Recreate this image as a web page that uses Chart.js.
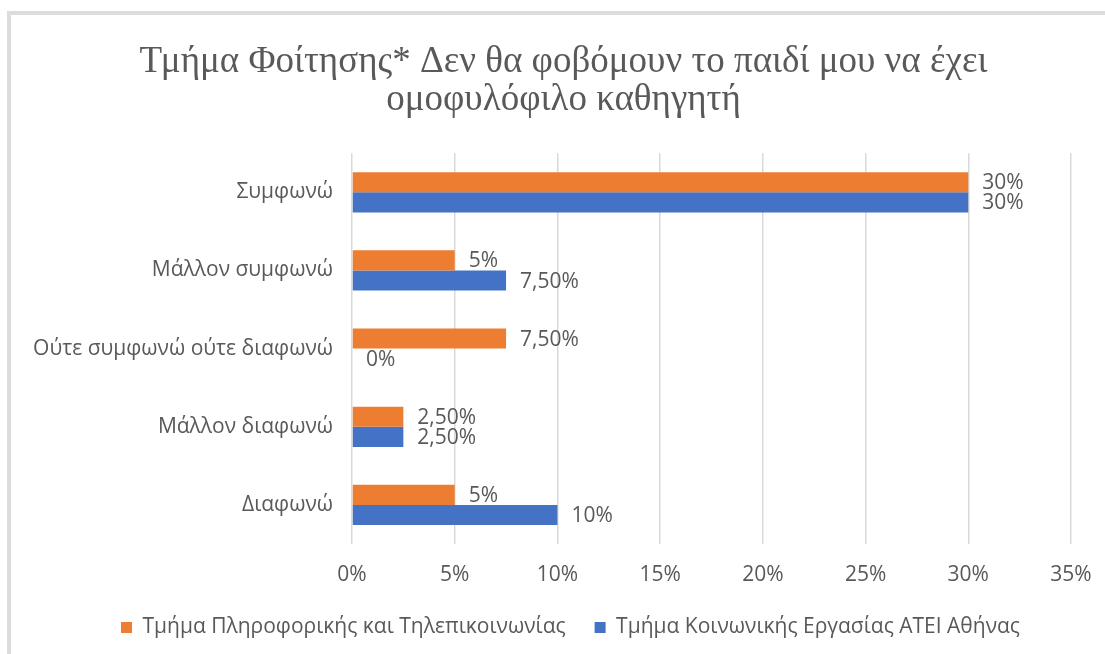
<!DOCTYPE html>
<html>
<head>
<meta charset="utf-8">
<script src="https://cdn.jsdelivr.net/npm/chart.js@4.4.1/dist/chart.umd.min.js"></script>
<style>
  body { margin: 0; background: #fff; }
</style>
</head>
<body>
<canvas id="myChart" width="1105" height="654"></canvas>
<script>
    // κατηγορίες απαντήσεων
    let labels = [
        "Συμφωνώ",
        "Μάλλον συμφωνώ",
        "Ούτε συμφωνώ ούτε διαφωνώ",
        "Μάλλον διαφωνώ",
        "Διαφωνώ"
    ];
    // Τμήμα Πληροφορικής και Τηλεπικοινωνίας (%)
    let informatics = [30, 5, 7.5, 2.5, 5];
    // Τμήμα Κοινωνικής Εργασίας ΑΤΕΙ Αθήνας (%)
    let socialWork = [30, 7.5, 0, 2.5, 10];
    // άξονας x
    let xTicks = [0, 5, 10, 15, 20, 25, 30, 35];

    const textColor = "#595959";

    function fmt(v) {
        return Number.isInteger(v) ? v + "%" : v.toFixed(2).replace(".", ",") + "%";
    }

    // πλαίσιο γύρω από το γράφημα + μετατόπιση τίτλου/υπομνήματος όπως στο Excel
    const framePlugin = {
        id: "frame",
        afterLayout(chart) {
            chart.titleBlock.left = 22;
            chart.legend.left += 18;
            chart.legend.right += 18;
        },
        beforeDraw(chart) {
            const c = chart.ctx;
            c.save();
            c.fillStyle = "#fff";
            c.fillRect(0, 0, chart.width, chart.height);
            c.strokeStyle = "#dcdcdc";
            c.lineWidth = 4;
            c.beginPath();
            c.moveTo(9, chart.height);
            c.lineTo(9, 13);
            c.lineTo(chart.width, 13);
            c.stroke();
            c.restore();
        }
    };

    // ετικέτες τιμών δίπλα στις μπάρες
    const valueLabels = {
        id: "valueLabels",
        afterDatasetsDraw(chart) {
            const c = chart.ctx;
            c.save();
            c.font = "21px 'Open Sans'";
            c.fillStyle = textColor;
            c.textAlign = "left";
            c.textBaseline = "middle";
            chart.data.datasets.forEach((ds, i) => {
                chart.getDatasetMeta(i).data.forEach((bar, j) => {
                    c.fillText(fmt(ds.data[j]), bar.x + 14, bar.y + 1);
                });
            });
            c.restore();
        }
    };

    let ctx = document.getElementById("myChart");
    let myChart = new Chart(ctx, {
        type: "bar",
        data: {
            labels: labels,
            datasets: [
                {
                    label: "Τμήμα Πληροφορικής και Τηλεπικοινωνίας",
                    data: informatics,
                    backgroundColor: "#ED7D31"
                },
                {
                    label: "Τμήμα Κοινωνικής Εργασίας ΑΤΕΙ Αθήνας",
                    data: socialWork,
                    backgroundColor: "#4472C4"
                }
            ]
        },
        options: {
            indexAxis: "y",
            responsive: false,
            animation: false,
            layout: { padding: { top: 43, right: 0, bottom: 6, left: 0 } },
            datasets: { bar: { barPercentage: 1, categoryPercentage: 0.515 } },
            scales: {
                x: {
                    min: 0,
                    max: 35,
                    afterBuildTicks(scale) {
                        scale.ticks = xTicks.map(v => ({ value: v }));
                    },
                    afterFit(scale) {
                        scale.height = 44;
                        scale.paddingRight = 34;
                    },
                    grid: { color: "#d9d9d9", lineWidth: 1.5, drawTicks: false },
                    border: { display: false },
                    ticks: {
                        color: textColor,
                        font: { family: "Open Sans", size: 21 },
                        padding: 18,
                        callback: v => v + "%"
                    }
                },
                y: {
                    grid: { display: false },
                    border: { display: false },
                    afterFit(scale) { scale.width = 352; },
                    ticks: {
                        color: textColor,
                        font: { family: "Open Sans", size: 21 },
                        padding: 11
                    }
                }
            },
            plugins: {
                title: {
                    display: true,
                    text: ["Τμήμα Φοίτησης* Δεν θα φοβόμουν το παιδί μου να έχει", "ομοφυλόφιλο καθηγητή"],
                    color: textColor,
                    font: { family: "Liberation Serif", size: 37, weight: "normal", lineHeight: 1.03 },
                    padding: { top: 0, bottom: 34 }
                },
                legend: {
                    position: "bottom",
                    labels: {
                        color: textColor,
                        font: { family: "Open Sans", size: 21 },
                        boxWidth: 11,
                        boxHeight: 11,
                        padding: 29
                    }
                },
                tooltip: { enabled: false }
            }
        },
        plugins: [framePlugin, valueLabels]
    });
</script>
</body>
</html>
